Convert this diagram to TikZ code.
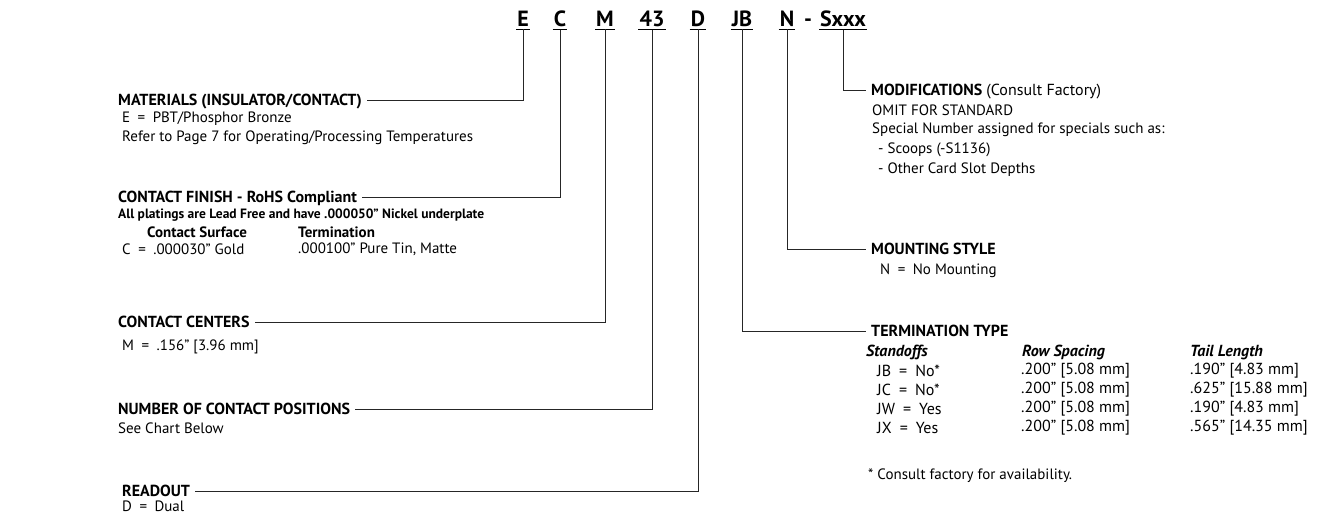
\documentclass[tikz,border=0pt]{standalone}
\usepackage{fontspec}
\setmainfont{PT Sans}
\begin{document}
\begin{tikzpicture}[x=1pt,y=-1pt,
	code/.style={font=\fontsize{22}{24}\selectfont\bfseries,inner xsep=1pt,inner ysep=3pt,anchor=base},
	head/.style={font=\fontsize{16}{18}\selectfont\bfseries,anchor=west,inner sep=5pt,text depth=0pt},
	txt/.style={font=\fontsize{15}{17}\selectfont,anchor=west,inner sep=0pt},
	sub/.style={font=\fontsize{15}{17}\selectfont\bfseries,anchor=west,inner sep=0pt},
	cell/.style={font=\fontsize{16}{18}\selectfont,anchor=west,inner sep=0pt},
	lead/.style={line width=0.8pt,color=black!85}]
		\useasboundingbox (0,0) rectangle (1338,515);

		% Part number
		\node[code] (cE) at (523,26) {E};
		\node[code] (cC) at (560,26) {C};
		\node[code] (cM) at (605,26) {M};
		\node[code] (c43) at (652,26) {43};
		\node[code] (cD) at (698,26) {D};
		\node[code] (cJB) at (742,26) {JB};
		\node[code] (cN) at (787,26) {N};
		\node[code] (cDash) at (808,26) {-};
		\node[code] (cS) at (843,26) {Sxxx};
		\foreach \c in {cE,cC,cM,c43,cD,cJB,cN,cS}
			\draw[line width=1.2pt] (\c.south west) -- (\c.south east);

		% Left column
		\node[head] (hMat) at (113,100) {MATERIALS (INSULATOR/CONTACT)};
		\node[txt] (tMat1) at (122,119) {E\enspace=\enspace PBT/Phosphor Bronze};
		\node[txt] (tMat2) at (122,138) {Refer to Page 7 for Operating/Processing Temperatures};

		\node[head] (hFin) at (113,197) {CONTACT FINISH - RoHS Compliant};
		\node[txt,font=\fontsize{13.5}{15}\selectfont\bfseries] (tFin1) at (118,215) {All platings are Lead Free and have .000050” Nickel underplate};
		\node[sub] (tSurf) at (147,232) {Contact Surface};
		\node[sub] (tTerm) at (298,232) {Termination};
		\node[txt] (tFin2) at (122,249) {C\enspace=\enspace.000030” Gold};
		\node[txt] (tFin3) at (298,249) {.000100” Pure Tin, Matte};

		\node[head] (hCen) at (113,322) {CONTACT CENTERS};
		\node[txt] (tCen) at (122,347) {M\enspace=\enspace.156” [3.96 mm]};

		\node[head] (hPos) at (113,409) {NUMBER OF CONTACT POSITIONS};
		\node[txt] (tPos) at (118,428) {See Chart Below};

		\node[head] (hRead) at (117,491) {READOUT};
		\node[txt] (tRead) at (122,506) {D\enspace=\enspace Dual};

		% Right column
		\node[head] (hMod) at (866,90) {MODIFICATIONS \mdseries(Consult Factory)};
		\node[txt] (tMod1) at (872,110) {OMIT FOR STANDARD};
		\node[txt] (tMod2) at (872,130) {Special Number assigned for specials such as:};
		\node[txt] (tMod3) at (878,150) {- Scoops (-S1136)};
		\node[txt] (tMod4) at (878,170) {- Other Card Slot Depths};

		\node[head] (hMount) at (866,249) {MOUNTING STYLE};
		\node[txt] (tMount) at (880,271) {N\enspace=\enspace No Mounting};

		\node[head] (hTerm) at (866,331) {TERMINATION TYPE};
		\node[cell,font=\fontsize{16}{18}\selectfont\bfseries\itshape] (tStand) at (866,352) {Standoffs};
		\node[cell,font=\fontsize{16}{18}\selectfont\bfseries\itshape] (tRow) at (1022,352) {Row Spacing};
		\node[cell,font=\fontsize{16}{18}\selectfont\bfseries\itshape] (tTail) at (1190,352) {Tail Length};
		\foreach \k/\s/\t [count=\i] in {JB/No*/.190” [4.83 mm],JC/No*/.625” [15.88 mm],JW/Yes/.190” [4.83 mm],JX/Yes/.565” [14.35 mm]}{
			\node[cell] (tK\i) at (877,{352+19*\i}) {\k\enspace=\enspace\s};
			\node[cell] (tR\i) at (1021,{352+19*\i}) {.200” [5.08 mm]};
			\node[cell] (tT\i) at (1190,{352+19*\i}) {\t};
		}
		\node[txt] (tNote) at (868,476) {* Consult factory for availability.};

		% Leaders
		\draw[lead] (cE.south) |- (hMat.east);
		\draw[lead] (cC.south) |- (hFin.east);
		\draw[lead] (cM.south) |- (hCen.east);
		\draw[lead] (c43.south) |- (hPos.east);
		\draw[lead] (cD.south) |- (hRead.east);
		\draw[lead] (cJB.south) |- (hTerm.west);
		\draw[lead] (cN.south) |- (hMount.west);
		\draw[lead] (cS.south) |- (hMod.west);
		
\end{tikzpicture}
\end{document}
